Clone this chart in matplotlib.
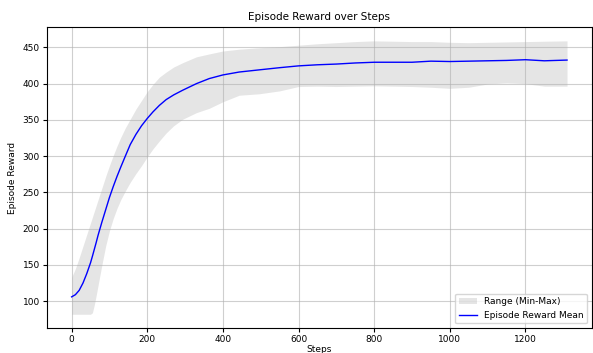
import matplotlib
matplotlib.use('Agg')
import matplotlib.pyplot as plt

# values
steps = [0, 10, 20, 30, 40, 50, 55, 60, 65, 70, 80, 90, 100, 110, 120, 130, 142, 155, 170, 185,
         200, 215, 232, 250, 270, 294, 330, 364, 400, 443, 496, 550, 600, 650, 700, 750, 800,
         850, 900, 950, 1000, 1050, 1100, 1150, 1200, 1250, 1310]
reward_mean = [106, 109, 115, 125, 138, 153, 162, 171.5, 181, 191, 209, 226, 243, 258, 272, 285, 300, 316, 330, 342,
               352, 361, 370, 378, 384.5, 391, 400, 407, 412, 416, 419, 422, 424.5, 426, 427, 428.5, 429.5,
               429.5, 429.5, 431, 430.5, 431, 431.5, 432, 433, 431.5, 432.5]
reward_max = [133, 145, 160, 176, 192, 208, 216, 224, 232, 240, 256, 272, 287, 301, 314, 326, 339, 351, 365, 377,
              389, 399, 409, 416, 423, 429, 437, 441, 445, 447.5, 449.5, 451, 453, 455, 456.5, 458, 459,
              458.5, 458, 458, 457, 456.5, 457, 457.5, 458, 458.5, 459]
reward_min = [82, 82, 82, 82, 82, 82, 84, 95, 108, 122, 150, 176, 197, 214, 228, 240, 252, 264, 276, 287,
              299, 310, 321, 332, 342, 351, 360, 366, 375, 384, 386, 390, 396, 396.5, 396, 396.5, 397,
              396.5, 396, 395, 393.5, 395, 399.5, 401, 400, 396.5, 396.5]

fig, ax = plt.subplots(figsize=(5.93, 3.53), dpi=100)
fig.subplots_adjust(left=0.079, right=0.998, top=0.923, bottom=0.071)

ax.fill_between(steps, reward_min, reward_max, color='gray', alpha=0.2, linewidth=0,
                label='Range (Min-Max)')
ax.plot(steps, reward_mean, color='blue', linewidth=1, label='Episode Reward Mean')

ax.set_title('Episode Reward over Steps', fontsize=7.5, pad=5)
ax.set_xlabel('Steps', fontsize=6.5, labelpad=1)
ax.set_ylabel('Episode Reward', fontsize=6.5, labelpad=4)
ax.tick_params(labelsize=6.5, length=3, pad=2)
ax.grid(True, alpha=0.6)
ax.legend(loc='lower right', fontsize=6.5)

fig.savefig('out.png', dpi=100)
